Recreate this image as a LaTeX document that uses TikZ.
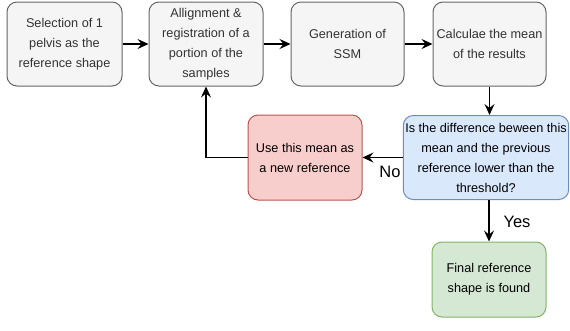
\documentclass[tikz,border=0pt]{standalone}
\usepackage{fontspec}
\setmainfont{Liberation Sans}
\usetikzlibrary{arrows.meta}
\definecolor{grayfill}{HTML}{F5F5F5}
\definecolor{graystroke}{HTML}{666666}
\definecolor{graytext}{HTML}{333333}
\definecolor{redfill}{HTML}{F8CECC}
\definecolor{redstroke}{HTML}{B85450}
\definecolor{bluefill}{HTML}{DAE8FC}
\definecolor{bluestroke}{HTML}{6C8EBF}
\definecolor{greenfill}{HTML}{D5E8D4}
\definecolor{greenstroke}{HTML}{82B366}
\tikzset{
  box/.style={draw, rounded corners=10pt, line width=1pt, align=center,
    minimum width=114pt, minimum height=84pt, inner sep=2pt,
    font=\fontsize{12.7}{20}\selectfont},
  graybox/.style={box, fill=grayfill, draw=graystroke, text=graytext},
  redbox/.style={box, fill=redfill, draw=redstroke},
  bluebox/.style={box, fill=bluefill, draw=bluestroke, minimum width=164pt},
  greenbox/.style={box, fill=greenfill, draw=greenstroke, minimum height=75pt},
  flow/.style={line width=1.2pt, -{Stealth[length=11pt, width=10pt, inset=4pt]}},
  tag/.style={font=\fontsize{16.5}{19}\selectfont}
}
\begin{document}
\begin{tikzpicture}[x=1pt, y=-1pt]
  \useasboundingbox (0,0) rectangle (570,330);
  \node[graybox, minimum width=115pt] (sel) at (64.5,44) {Selection of 1\\pelvis as the\\reference shape};
  \node[graybox] (reg) at (206,44) {Allignment \&\\registration of a\\portion of the\\samples};
  \node[graybox, minimum width=113pt] (ssm) at (347.5,44) {Generation of\\SSM};
  \node[graybox, minimum width=113pt] (mean) at (489.5,44) {Calculae the mean\\of the results};
  \node[bluebox] (check) at (486,157.5) {Is the difference beween this\\mean and the previous\\reference lower than the\\threshold?};
  \node[redbox, minimum height=85pt] (newref) at (305,157.5) {Use this mean as\\a new reference};
  \node[greenbox] (final) at (489,279.5) {Final reference\\shape is found};

  \draw[flow] (sel) -- (reg);
  \draw[flow] (reg) -- (ssm);
  \draw[flow] (ssm) -- (mean);
  \draw[flow] (mean.south) -- (mean.south |- check.north);
  \draw[flow] (check) -- (newref);
  \draw[flow] (newref.west) -| (reg.south);
  \draw[flow] (final.north |- check.south) -- (final.north);

  \node[tag] (no) at (390,172) {No};
  \node[tag] (yes) at (517,222) {Yes};
\end{tikzpicture}
\end{document}
